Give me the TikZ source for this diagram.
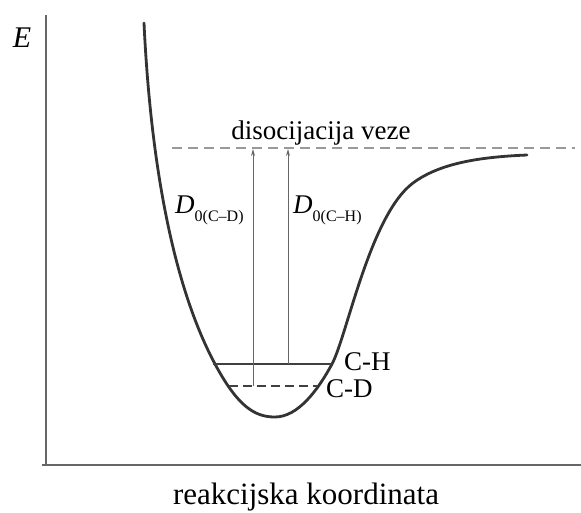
\documentclass[tikz,border=0pt]{standalone}
\usepackage{fontspec}
\setmainfont{Liberation Serif}
\usetikzlibrary{arrows.meta}
\begin{document}
\begin{tikzpicture}[x=1pt,y=-1pt,
  axisline/.style={draw=black!60, line width=1.6pt},
  curveline/.style={draw=black!80, line width=2.8pt, line join=round, line cap=round},
  levelline/.style={draw=black!75, line width=2pt},
  dissline/.style={draw=black!40, line width=1.8pt, dash pattern=on 10pt off 6pt},
  arrowline/.style={draw=black!60, line width=0.9pt, -{Stealth[length=7pt,width=4pt]}},
  lbl/.style={inner sep=0pt, text=black, font=\fontsize{27}{27}\selectfont},
  dlbl/.style={inner sep=0pt, text=black, font=\fontsize{27}{27}\selectfont}]
\useasboundingbox (0,0) rectangle (581,512);
% axes
\coordinate (ytop) at (46,15);
\coordinate (origin) at (46,465);
\coordinate (xstart) at (42,465);
\coordinate (xend) at (581,465);
\draw[axisline] (ytop) -- (origin);
\draw[axisline] (xstart) -- (xend);
\node[lbl, font=\fontsize{30}{30}\selectfont\itshape] (E) at (22,38) {E};
\node[lbl, font=\fontsize{31}{31}\selectfont, anchor=base] (xlab) at (306,504) {reakcijska koordinata};
% potential curve
\draw[curveline] (144,23) .. controls (150,150) and (170,280) .. (215,364)
  .. controls (238,407) and (255,417) .. (275,417)
  .. controls (298,417) and (318,390) .. (332,364)
  .. controls (347,336) and (370,215) .. (413,183)
  .. controls (440,163) and (480,157) .. (527,155);
% dissociation line
\coordinate (dl) at (172,148);
\coordinate (dr) at (575,148);
\draw[dissline] (dl) -- (dr);
\node[lbl, anchor=base] (diss) at (321,139) {disocijacija veze};
% levels
\coordinate (chl) at (213,364);
\coordinate (chr) at (332,364);
\coordinate (cdl) at (229,386);
\coordinate (cdr) at (317,386);
\draw[levelline] (chl) -- (chr);
\draw[levelline, dash pattern=on 9pt off 5pt] (cdl) -- (cdr);
\node[lbl, anchor=base west] (chlab) at (344,370) {C-H};
\node[lbl, anchor=base west] (cdlab) at (326,397) {C-D};
% arrows
\coordinate (a1s) at (253,386);
\coordinate (a1e) at (253,149);
\coordinate (a2s) at (288,364);
\coordinate (a2e) at (288,149);
\draw[arrowline] (a1s) -- (a1e);
\draw[arrowline] (a2s) -- (a2e);
\node[dlbl, anchor=base west] (dcd) at (175,213) {\textit{D}\raisebox{-0.3em}{\fontsize{16}{16}\selectfont 0(C–D)}};
\node[dlbl, anchor=base west] (dch) at (293,213) {\textit{D}\raisebox{-0.3em}{\fontsize{16}{16}\selectfont 0(C–H)}};
\end{tikzpicture}
\end{document}
